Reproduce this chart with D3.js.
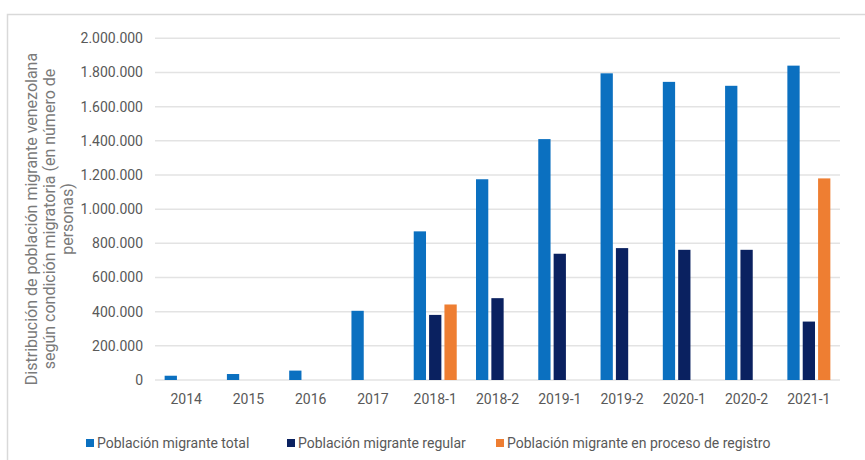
<!DOCTYPE html>
<html>
<head>
<meta charset="utf-8">
<script src="https://cdn.jsdelivr.net/npm/d3@7"></script>
<style>
  html, body { margin: 0; padding: 0; background: #fff; }
  svg { display: block; }
  text { font-family: Roboto, "Noto Sans", sans-serif; }
</style>
</head>
<body>
<svg id="chart" width="865" height="460"></svg>
<script>
const categories = ["2014","2015","2016","2017","2018-1","2018-2","2019-1","2019-2","2020-1","2020-2","2021-1"];
const seriesNames = ["Población migrante total","Población migrante regular","Población migrante en proceso de registro"];
const totalValues = [25000, 35000, 55000, 405000, 870000, 1175000, 1410000, 1795000, 1745000, 1722000, 1840000];
const regularValues = [null, null, null, null, 381000, 479000, 739000, 772000, 762000, 762000, 342000];
const registroValues = [null, null, null, null, 442000, null, null, null, null, null, 1180000];
const yTicks = [0, 200000, 400000, 600000, 800000, 1000000, 1200000, 1400000, 1600000, 1800000, 2000000];
const seriesColors = ["#0b70c0", "#0a2160", "#ee7e32"];
const yTitleLines = ["Distribución de población migrante venezolana", "según condición migratoria (en número de", "personas)"];

const svg = d3.select("#chart");
const W = 865, H = 460;
const plot = {left: 155, right: 840, top: 38.3, bottom: 380};

// frame
svg.append("path")
  .attr("d", `M7.5,${H+5} V14.5 H${W+5}`)
  .attr("fill", "none").attr("stroke", "#d9d9d9").attr("stroke-width", 1.5);

const loc = d3.formatLocale({decimal: ",", thousands: ".", grouping: [3], currency: ["", ""]});
const fmt = loc.format(",d");

const x0 = d3.scaleBand().domain(categories).range([plot.left, plot.right]).paddingInner(0).paddingOuter(0);
const groupW = 43;
const x1 = d3.scaleBand().domain(d3.range(3)).range([0, groupW]).paddingInner(0.2);
const y = d3.scaleLinear().domain([0, 2000000]).range([plot.bottom, plot.top]);

// gridlines
svg.append("g").selectAll("line").data(yTicks).join("line")
  .attr("x1", plot.left).attr("x2", plot.right)
  .attr("y1", d => y(d)).attr("y2", d => y(d))
  .attr("stroke", "#e3e3e3").attr("stroke-width", 1.5);

// y axis
const yAxis = d3.axisLeft(y).tickValues(yTicks).tickFormat(d => fmt(d)).tickSize(0).tickPadding(0);
const gy = svg.append("g").attr("transform", `translate(143,0)`).call(yAxis);
gy.select(".domain").remove();
gy.selectAll("text").attr("font-size", 14).attr("fill", "#595959").attr("font-family", "Roboto, sans-serif");

// x axis
const xAxis = d3.axisBottom(x0).tickSize(0).tickPadding(0);
const gx = svg.append("g").attr("transform", `translate(0,${plot.bottom + 14})`).call(xAxis);
gx.select(".domain").remove();
gx.selectAll("text").attr("font-size", 14).attr("fill", "#595959").attr("font-family", "Roboto, sans-serif");

// bars
const data = categories.map((c, i) => ({cat: c, vals: [totalValues[i], regularValues[i], registroValues[i]]}));
const groups = svg.append("g").selectAll("g").data(data).join("g")
  .attr("transform", d => `translate(${x0(d.cat) + (x0.bandwidth() - groupW) / 2},0)`);
groups.selectAll("rect").data(d => d.vals.map((v, k) => ({v, k})).filter(o => o.v != null)).join("rect")
  .attr("x", o => x1(o.k))
  .attr("width", x1.bandwidth())
  .attr("y", o => y(o.v))
  .attr("height", o => y(0) - y(o.v))
  .attr("fill", o => seriesColors[o.k]);

// y title
const ytg = svg.append("g");
const titleX = [37, 55, 73];
yTitleLines.forEach((t, i) => {
  ytg.append("text").text(t)
    .attr("transform", `translate(${titleX[i]},219) rotate(-90)`)
    .attr("text-anchor", "middle")
    .attr("font-size", 16).attr("fill", "#7a7a7a");
});

// legend
const legendX = [86, 287, 496];
const lg = svg.append("g").selectAll("g").data(seriesNames).join("g")
  .attr("transform", (d, i) => `translate(${legendX[i]},439)`);
lg.append("rect").attr("x", 0).attr("y", 0).attr("width", 8).attr("height", 8)
  .attr("fill", (d, i) => seriesColors[i]);
lg.append("text").attr("x", 11).attr("y", 9).text(d => d)
  .attr("font-size", 14).attr("fill", "#595959");
</script>
</body>
</html>
